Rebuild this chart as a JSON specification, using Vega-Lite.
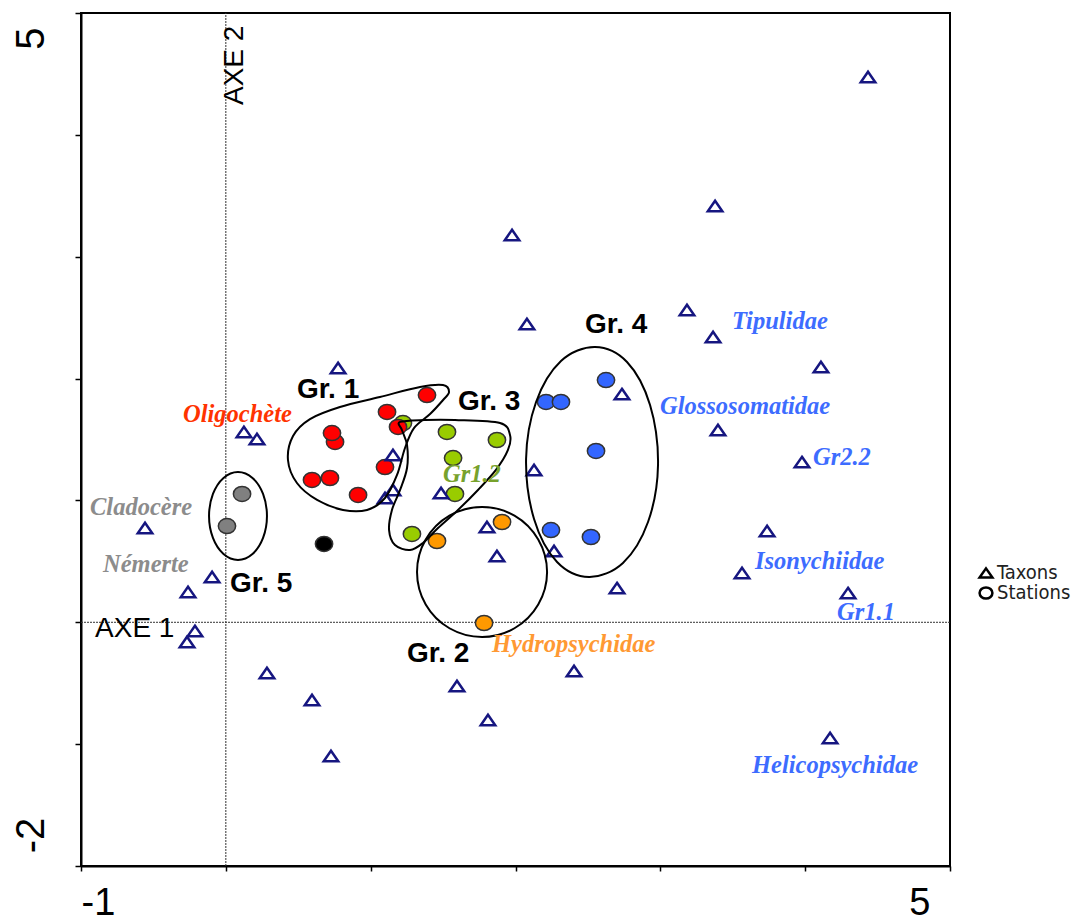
{
  "$schema": "https://vega.github.io/schema/vega-lite/v6.json",
  "width": 869,
  "height": 853,
  "autosize": {"type": "none"},
  "padding": {"left": 81, "top": 13, "right": 124, "bottom": 53},
  "background": "white",
  "config": {
    "view": {"stroke": "black", "strokeWidth": 2},
    "axis": {"grid": false, "domainColor": "black", "domainWidth": 2, "tickColor": "black", "tickWidth": 1.5, "labelFont": "Liberation Sans", "labelColor": "black"},
    "legend": {"symbolStrokeColor": "black"}
  },
  "datasets": {
    "axes": [
      {"x": 0, "x2": 0, "y": -2, "y2": 5},
      {"x": -1, "x2": 5, "y": 0, "y2": 0}
    ],
    "taxa": [
      {"x": 4.434, "y": 4.475, "kind": "Taxons"},
      {"x": 3.378, "y": 3.416, "kind": "Taxons"},
      {"x": 1.976, "y": 3.178, "kind": "Taxons"},
      {"x": 3.184, "y": 2.563, "kind": "Taxons"},
      {"x": 3.364, "y": 2.341, "kind": "Taxons"},
      {"x": 2.079, "y": 2.448, "kind": "Taxons"},
      {"x": 0.775, "y": 2.087, "kind": "Taxons"},
      {"x": 4.109, "y": 2.095, "kind": "Taxons"},
      {"x": 2.735, "y": 1.873, "kind": "Taxons"},
      {"x": 3.398, "y": 1.578, "kind": "Taxons"},
      {"x": 0.125, "y": 1.562, "kind": "Taxons"},
      {"x": 0.215, "y": 1.504, "kind": "Taxons"},
      {"x": 1.154, "y": 1.373, "kind": "Taxons"},
      {"x": 2.128, "y": 1.250, "kind": "Taxons"},
      {"x": 3.978, "y": 1.315, "kind": "Taxons"},
      {"x": 1.486, "y": 1.061, "kind": "Taxons"},
      {"x": 1.154, "y": 1.086, "kind": "Taxons"},
      {"x": 1.099, "y": 1.020, "kind": "Taxons"},
      {"x": -0.558, "y": 0.774, "kind": "Taxons"},
      {"x": 1.803, "y": 0.782, "kind": "Taxons"},
      {"x": 3.737, "y": 0.749, "kind": "Taxons"},
      {"x": 2.266, "y": 0.585, "kind": "Taxons"},
      {"x": 1.872, "y": 0.544, "kind": "Taxons"},
      {"x": -0.095, "y": 0.372, "kind": "Taxons"},
      {"x": 3.564, "y": 0.405, "kind": "Taxons"},
      {"x": -0.261, "y": 0.249, "kind": "Taxons"},
      {"x": 2.701, "y": 0.281, "kind": "Taxons"},
      {"x": 4.296, "y": 0.240, "kind": "Taxons"},
      {"x": -0.213, "y": -0.071, "kind": "Taxons"},
      {"x": -0.268, "y": -0.162, "kind": "Taxons"},
      {"x": 0.284, "y": -0.416, "kind": "Taxons"},
      {"x": 2.404, "y": -0.400, "kind": "Taxons"},
      {"x": 1.596, "y": -0.523, "kind": "Taxons"},
      {"x": 0.595, "y": -0.638, "kind": "Taxons"},
      {"x": 1.810, "y": -0.802, "kind": "Taxons"},
      {"x": 4.172, "y": -0.949, "kind": "Taxons"},
      {"x": 0.726, "y": -1.097, "kind": "Taxons"}
    ],
    "stations": [
      {"x": 0.112, "y": 1.053, "group": "Gr. 5", "kind": "Stations"},
      {"x": 0.008, "y": 0.790, "group": "Gr. 5", "kind": "Stations"},
      {"x": 1.223, "y": 1.635, "group": "Gr. 3", "kind": "Stations"},
      {"x": 1.527, "y": 1.562, "group": "Gr. 3", "kind": "Stations"},
      {"x": 1.872, "y": 1.496, "group": "Gr. 3", "kind": "Stations"},
      {"x": 1.569, "y": 1.348, "group": "Gr. 3", "kind": "Stations"},
      {"x": 1.582, "y": 1.053, "group": "Gr. 3", "kind": "Stations"},
      {"x": 1.285, "y": 0.725, "group": "Gr. 3", "kind": "Stations"},
      {"x": 1.389, "y": 1.865, "group": "Gr. 1", "kind": "Stations"},
      {"x": 1.113, "y": 1.726, "group": "Gr. 1", "kind": "Stations"},
      {"x": 1.189, "y": 1.603, "group": "Gr. 1", "kind": "Stations"},
      {"x": 0.754, "y": 1.480, "group": "Gr. 1", "kind": "Stations"},
      {"x": 0.733, "y": 1.553, "group": "Gr. 1", "kind": "Stations"},
      {"x": 1.099, "y": 1.274, "group": "Gr. 1", "kind": "Stations"},
      {"x": 0.595, "y": 1.168, "group": "Gr. 1", "kind": "Stations"},
      {"x": 0.719, "y": 1.184, "group": "Gr. 1", "kind": "Stations"},
      {"x": 0.913, "y": 1.045, "group": "Gr. 1", "kind": "Stations"},
      {"x": 0.678, "y": 0.643, "group": "none", "kind": "Stations"},
      {"x": 1.458, "y": 0.667, "group": "Gr. 2", "kind": "Stations"},
      {"x": 1.907, "y": 0.823, "group": "Gr. 2", "kind": "Stations"},
      {"x": 1.783, "y": -0.006, "group": "Gr. 2", "kind": "Stations"},
      {"x": 2.625, "y": 1.988, "group": "Gr. 4", "kind": "Stations"},
      {"x": 2.211, "y": 1.808, "group": "Gr. 4", "kind": "Stations"},
      {"x": 2.314, "y": 1.808, "group": "Gr. 4", "kind": "Stations"},
      {"x": 2.556, "y": 1.406, "group": "Gr. 4", "kind": "Stations"},
      {"x": 2.245, "y": 0.757, "group": "Gr. 4", "kind": "Stations"},
      {"x": 2.521, "y": 0.700, "group": "Gr. 4", "kind": "Stations"}
    ],
    "outlines": [
      {"grp": "Gr. 1", "i": 1, "x": 1.500, "y": 1.947},
      {"grp": "Gr. 1", "i": 2, "x": 1.341, "y": 1.931},
      {"grp": "Gr. 1", "i": 3, "x": 1.064, "y": 1.849},
      {"grp": "Gr. 1", "i": 4, "x": 0.788, "y": 1.767},
      {"grp": "Gr. 1", "i": 5, "x": 0.581, "y": 1.668},
      {"grp": "Gr. 1", "i": 6, "x": 0.464, "y": 1.529},
      {"grp": "Gr. 1", "i": 7, "x": 0.429, "y": 1.332},
      {"grp": "Gr. 1", "i": 8, "x": 0.491, "y": 1.143},
      {"grp": "Gr. 1", "i": 9, "x": 0.630, "y": 1.004},
      {"grp": "Gr. 1", "i": 10, "x": 0.809, "y": 0.922},
      {"grp": "Gr. 1", "i": 11, "x": 0.975, "y": 0.922},
      {"grp": "Gr. 1", "i": 12, "x": 1.099, "y": 1.020},
      {"grp": "Gr. 1", "i": 13, "x": 1.182, "y": 1.209},
      {"grp": "Gr. 1", "i": 14, "x": 1.237, "y": 1.430},
      {"grp": "Gr. 1", "i": 15, "x": 1.299, "y": 1.594},
      {"grp": "Gr. 1", "i": 16, "x": 1.410, "y": 1.709},
      {"grp": "Gr. 1", "i": 17, "x": 1.500, "y": 1.824},
      {"grp": "Gr. 1", "i": 18, "x": 1.541, "y": 1.890},
      {"grp": "Gr. 3", "i": 1, "x": 1.203, "y": 1.644},
      {"grp": "Gr. 3", "i": 2, "x": 1.375, "y": 1.660},
      {"grp": "Gr. 3", "i": 3, "x": 1.582, "y": 1.660},
      {"grp": "Gr. 3", "i": 4, "x": 1.893, "y": 1.635},
      {"grp": "Gr. 3", "i": 5, "x": 1.962, "y": 1.537},
      {"grp": "Gr. 3", "i": 6, "x": 1.948, "y": 1.414},
      {"grp": "Gr. 3", "i": 7, "x": 1.865, "y": 1.250},
      {"grp": "Gr. 3", "i": 8, "x": 1.741, "y": 1.086},
      {"grp": "Gr. 3", "i": 9, "x": 1.603, "y": 0.922},
      {"grp": "Gr. 3", "i": 10, "x": 1.465, "y": 0.774},
      {"grp": "Gr. 3", "i": 11, "x": 1.361, "y": 0.651},
      {"grp": "Gr. 3", "i": 12, "x": 1.272, "y": 0.593},
      {"grp": "Gr. 3", "i": 13, "x": 1.168, "y": 0.634},
      {"grp": "Gr. 3", "i": 14, "x": 1.127, "y": 0.757},
      {"grp": "Gr. 3", "i": 15, "x": 1.147, "y": 0.922},
      {"grp": "Gr. 3", "i": 16, "x": 1.203, "y": 1.086},
      {"grp": "Gr. 3", "i": 17, "x": 1.251, "y": 1.266},
      {"grp": "Gr. 3", "i": 18, "x": 1.251, "y": 1.455},
      {"grp": "Gr. 3", "i": 19, "x": 1.216, "y": 1.578},
      {"grp": "Gr. 4", "i": 1, "x": 2.984, "y": 1.291},
      {"grp": "Gr. 4", "i": 2, "x": 2.929, "y": 1.783},
      {"grp": "Gr. 4", "i": 3, "x": 2.770, "y": 2.136},
      {"grp": "Gr. 4", "i": 4, "x": 2.549, "y": 2.259},
      {"grp": "Gr. 4", "i": 5, "x": 2.314, "y": 2.144},
      {"grp": "Gr. 4", "i": 6, "x": 2.142, "y": 1.808},
      {"grp": "Gr. 4", "i": 7, "x": 2.073, "y": 1.340},
      {"grp": "Gr. 4", "i": 8, "x": 2.128, "y": 0.848},
      {"grp": "Gr. 4", "i": 9, "x": 2.287, "y": 0.495},
      {"grp": "Gr. 4", "i": 10, "x": 2.508, "y": 0.372},
      {"grp": "Gr. 4", "i": 11, "x": 2.742, "y": 0.487},
      {"grp": "Gr. 4", "i": 12, "x": 2.915, "y": 0.823},
      {"grp": "Gr. 2", "i": 1, "x": 2.218, "y": 0.413},
      {"grp": "Gr. 2", "i": 2, "x": 2.157, "y": 0.679},
      {"grp": "Gr. 2", "i": 3, "x": 1.993, "y": 0.875},
      {"grp": "Gr. 2", "i": 4, "x": 1.769, "y": 0.946},
      {"grp": "Gr. 2", "i": 5, "x": 1.544, "y": 0.875},
      {"grp": "Gr. 2", "i": 6, "x": 1.380, "y": 0.679},
      {"grp": "Gr. 2", "i": 7, "x": 1.320, "y": 0.413},
      {"grp": "Gr. 2", "i": 8, "x": 1.380, "y": 0.146},
      {"grp": "Gr. 2", "i": 9, "x": 1.544, "y": -0.049},
      {"grp": "Gr. 2", "i": 10, "x": 1.769, "y": -0.121},
      {"grp": "Gr. 2", "i": 11, "x": 1.993, "y": -0.049},
      {"grp": "Gr. 2", "i": 12, "x": 2.157, "y": 0.146},
      {"grp": "Gr. 5", "i": 1, "x": 0.284, "y": 0.872},
      {"grp": "Gr. 5", "i": 2, "x": 0.257, "y": 1.053},
      {"grp": "Gr. 5", "i": 3, "x": 0.184, "y": 1.185},
      {"grp": "Gr. 5", "i": 4, "x": 0.084, "y": 1.233},
      {"grp": "Gr. 5", "i": 5, "x": -0.016, "y": 1.185},
      {"grp": "Gr. 5", "i": 6, "x": -0.089, "y": 1.053},
      {"grp": "Gr. 5", "i": 7, "x": -0.116, "y": 0.872},
      {"grp": "Gr. 5", "i": 8, "x": -0.089, "y": 0.692},
      {"grp": "Gr. 5", "i": 9, "x": -0.016, "y": 0.560},
      {"grp": "Gr. 5", "i": 10, "x": 0.084, "y": 0.511},
      {"grp": "Gr. 5", "i": 11, "x": 0.184, "y": 0.560},
      {"grp": "Gr. 5", "i": 12, "x": 0.257, "y": 0.692}
    ],
    "grouplabels": [
      {"text": "Gr. 1", "x": 0.491, "y": 1.841},
      {"text": "Gr. 3", "x": 1.603, "y": 1.742},
      {"text": "Gr. 4", "x": 2.480, "y": 2.374},
      {"text": "Gr. 5", "x": 0.029, "y": 0.249},
      {"text": "Gr. 2", "x": 1.251, "y": -0.326}
    ],
    "taxonlabels": [
      {"text": "Oligochète", "x": -0.296, "y": 1.644, "group": "Gr. 1"},
      {"text": "Cladocère", "x": -0.938, "y": 0.880, "group": "Gr. 5"},
      {"text": "Némerte", "x": -0.848, "y": 0.413, "group": "Gr. 5"},
      {"text": "Gr1.2", "x": 1.499, "y": 1.151, "group": "Gr. 3"},
      {"text": "Hydropsychidae", "x": 1.838, "y": -0.244, "group": "Gr. 2"},
      {"text": "Tipulidae", "x": 3.495, "y": 2.407, "group": "Gr. 4"},
      {"text": "Glossosomatidae", "x": 2.998, "y": 1.709, "group": "Gr. 4"},
      {"text": "Gr2.2", "x": 4.054, "y": 1.291, "group": "Gr. 4"},
      {"text": "Isonychiidae", "x": 3.654, "y": 0.437, "group": "Gr. 4"},
      {"text": "Gr1.1", "x": 4.220, "y": 0.019, "group": "Gr. 4"},
      {"text": "Helicopsychidae", "x": 3.633, "y": -1.237, "group": "Gr. 4"}
    ],
    "axe1": [{"text": "AXE 1", "x": -0.903, "y": -0.121}],
    "axe2": [{"text": "AXE 2", "x": 0.119, "y": 4.245}]
  },
  "encoding": {
    "x": {
      "field": "x", "type": "quantitative",
      "scale": {"domain": [-1, 5], "nice": false, "zero": false},
      "axis": {
        "title": null, "values": [-1, 0, 1, 2, 3, 4, 5], "tickSize": 5, "labelPadding": 13, "labelFontSize": 38,
        "labelExpr": "datum.value == -1 ? '-1' : (datum.value == 5 ? '5' : '')",
        "labelOverlap": false, "labelFlush": false, "labelBound": false,
        "labelAlign": {"condition": {"test": "datum.value == -1", "value": "left"}, "value": "right"},
        "labelOffset": {"condition": {"test": "datum.value == 5", "value": -20}, "value": 0}
      }
    },
    "y": {
      "field": "y", "type": "quantitative",
      "scale": {"domain": [-2, 5], "nice": false, "zero": false},
      "axis": {
        "title": null, "values": [-2, -1, 0, 1, 2, 3, 4, 5], "tickSize": 6, "labelPadding": 32, "labelAngle": 270, "labelFontSize": 40,
        "labelExpr": "datum.value == -2 ? '-2' : (datum.value == 5 ? '5' : '')",
        "labelOverlap": false, "labelFlush": false, "labelBound": false,
        "labelAlign": "center", "labelBaseline": "alphabetic",
        "labelOffset": {"condition": {"test": "datum.value == 5", "value": 25}, "value": -31}
      }
    }
  },
  "layer": [
    {
      "data": {"name": "axes"},
      "mark": {"type": "rule", "color": "#333333", "strokeWidth": 1, "strokeDash": [2, 1]},
      "encoding": {"x2": {"field": "x2"}, "y2": {"field": "y2"}}
    },
    {
      "data": {"name": "stations"},
      "mark": {"type": "point", "filled": true, "size": 300, "stroke": "#333333", "strokeWidth": 1.5, "opacity": 1},
      "encoding": {
        "fill": {"field": "group", "type": "nominal", "legend": null,
          "scale": {"domain": ["Gr. 1", "Gr. 2", "Gr. 3", "Gr. 4", "Gr. 5", "none"], "range": ["#ff0000", "#ff9900", "#99cc00", "#3366ff", "#808080", "#000000"]}},
        "shape": {"field": "kind", "type": "nominal",
          "scale": {"domain": ["Taxons", "Stations"], "range": ["M0,-0.72L1,0.72L-1,0.72Z", "M-1,0A1,0.87 0 1,1 1,0A1,0.87 0 1,1 -1,0Z"]},
          "legend": {"title": null, "orient": "none", "legendX": 895, "legendY": 550, "padding": 0,
            "labelFont": "Liberation Sans Narrow, DejaVu Sans Condensed, sans-serif", "labelFontSize": 20, "labelColor": "#222222",
            "symbolSize": 165, "rowPadding": -1, "labelOffset": 1,
            "symbolFillColor": "white", "symbolStrokeColor": "black", "symbolStrokeWidth": 2.5, "symbolOpacity": 1}
        }
      }
    },
    {
      "data": {"name": "taxa"},
      "mark": {"type": "point", "filled": false, "size": 210, "color": "#161680", "strokeWidth": 2.5, "opacity": 1},
      "encoding": {
        "shape": {"field": "kind", "type": "nominal",
          "scale": {"domain": ["Taxons", "Stations"], "range": ["M0,-0.72L1,0.72L-1,0.72Z", "M-1,0A1,0.87 0 1,1 1,0A1,0.87 0 1,1 -1,0Z"]}}
      }
    },
    {
      "data": {"name": "outlines"},
      "mark": {"type": "line", "interpolate": "cardinal-closed", "color": "black", "strokeWidth": 2},
      "encoding": {"detail": {"field": "grp"}, "order": {"field": "i", "type": "quantitative"}}
    },
    {
      "data": {"name": "grouplabels"},
      "mark": {"type": "text", "font": "Liberation Sans", "fontWeight": "bold", "fontSize": 28, "align": "left", "baseline": "alphabetic", "color": "black"},
      "encoding": {"text": {"field": "text"}}
    },
    {
      "data": {"name": "taxonlabels"},
      "mark": {"type": "text", "font": "Liberation Serif", "fontWeight": "bold", "fontStyle": "italic", "fontSize": 24.5, "align": "left", "baseline": "alphabetic"},
      "encoding": {
        "text": {"field": "text"},
        "color": {"field": "group", "type": "nominal", "legend": null,
          "scale": {"domain": ["Gr. 1", "Gr. 2", "Gr. 3", "Gr. 4", "Gr. 5"], "range": ["#ff3300", "#ff9933", "#77a22c", "#3d6cff", "#8c8c8c"]}}
      }
    },
    {
      "data": {"name": "axe1"},
      "mark": {"type": "text", "font": "Liberation Sans", "fontSize": 28, "align": "left", "baseline": "alphabetic", "color": "black"},
      "encoding": {"text": {"field": "text"}}
    },
    {
      "data": {"name": "axe2"},
      "mark": {"type": "text", "font": "Liberation Sans", "fontSize": 28, "align": "left", "baseline": "alphabetic", "angle": 270, "color": "black"},
      "encoding": {"text": {"field": "text"}}
    }
  ]
}
